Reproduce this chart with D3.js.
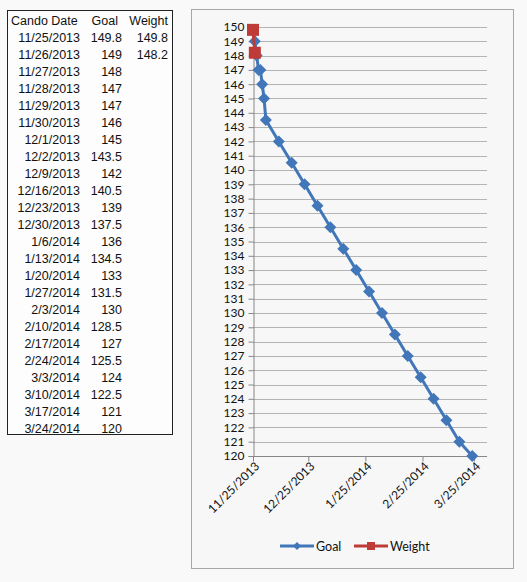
<!DOCTYPE html>
<html><head><meta charset="utf-8">
<script src="https://cdn.jsdelivr.net/npm/d3@7"></script>
<style>
html,body{margin:0;padding:0;background:#f9f9f9;}
svg{display:block;}
</style></head>
<body>
<svg id="c" width="527" height="582"></svg>
<script>
const dates = ["11/25/2013","11/26/2013","11/27/2013","11/28/2013","11/29/2013","11/30/2013","12/1/2013","12/2/2013","12/9/2013","12/16/2013","12/23/2013","12/30/2013","1/6/2014","1/13/2014","1/20/2014","1/27/2014","2/3/2014","2/10/2014","2/17/2014","2/24/2014","3/3/2014","3/10/2014","3/17/2014","3/24/2014"];
const goal = [149.8,149,148,147,147,146,145,143.5,142,140.5,139,137.5,136,134.5,133,131.5,130,128.5,127,125.5,124,122.5,121,120];
const weight = [149.8,148.2,null,null,null,null,null,null,null,null,null,null,null,null,null,null,null,null,null,null,null,null,null,null];
const headers = ["Cando Date","Goal","Weight"];
const xTickLabels = ["11/25/2013","12/25/2013","1/25/2014","2/25/2014","3/25/2014"];
const xDomain = ["11/25/2013","4/1/2014"];
const yDomain = [120,150];
const seriesNames = ["Goal","Weight"];

const parse = d3.timeParse("%m/%d/%Y");
const svg = d3.select("#c");

// ---------- table ----------
const tbl = svg.append("g").attr("font-family","Liberation Sans, Arial, sans-serif").attr("font-size",12.5).attr("fill","#111");
tbl.append("rect").attr("x",7.5).attr("y",10.5).attr("width",165).attr("height",424)
  .attr("fill","#fdfdfd").attr("stroke","#222").attr("stroke-width",1);
const rowY = d3.scaleLinear().domain([0,1]).range([20,37]);
tbl.append("text").attr("x",11).attr("y",rowY(0)+4.5).text(headers[0]);
tbl.append("text").attr("x",118).attr("y",rowY(0)+4.5).attr("text-anchor","end").text(headers[1]);
tbl.append("text").attr("x",168).attr("y",rowY(0)+4.5).attr("text-anchor","end").text(headers[2]);
dates.forEach((d,i)=>{
  const y = rowY(i+1)+4.5;
  tbl.append("text").attr("x",80).attr("y",y).attr("text-anchor","end").text(d);
  tbl.append("text").attr("x",122).attr("y",y).attr("text-anchor","end").text(goal[i]);
  if(weight[i]!=null) tbl.append("text").attr("x",168).attr("y",y).attr("text-anchor","end").text(weight[i]);
});

// ---------- chart ----------
svg.append("rect").attr("x",191.5).attr("y",9.5).attr("width",322).attr("height",559)
  .attr("fill","#f7f7f7").attr("stroke","#a6a6a6").attr("stroke-width",1);

const x = d3.scaleTime().domain(xDomain.map(parse)).range([253,487]);
const y = d3.scaleLinear().domain(yDomain).range([456,27]);
const yTicks = d3.range(yDomain[0], yDomain[1]+1, 1);

const ch = svg.append("g").attr("font-family","Lato, 'Open Sans', sans-serif").attr("font-size",12).attr("fill","#111");

// gridlines
ch.append("g").selectAll("line").data(yTicks).join("line")
  .attr("x1",x.range()[0]).attr("x2",x.range()[1])
  .attr("y1",d=>Math.round(y(d))+0.5).attr("y2",d=>Math.round(y(d))+0.5)
  .attr("stroke","#b4b4b4").attr("stroke-width",1);

// y axis
const yAxis = d3.axisLeft(y).tickValues(yTicks).tickSize(5).tickPadding(4).tickFormat(d3.format("d"));
const gy = ch.append("g").attr("transform",`translate(${x.range()[0]+0.5},0)`).call(yAxis);
gy.selectAll("path,line").attr("stroke","#868686");
gy.selectAll("text").attr("font-family","Lato, 'Open Sans', sans-serif").attr("font-size",12).attr("fill","#111");

// x axis
const xTicks = xTickLabels.map(parse);
const xAxis = d3.axisBottom(x).tickValues(xTicks).tickSize(5).tickFormat(d3.timeFormat("%-m/%-d/%Y"));
const gx = ch.append("g").attr("transform",`translate(0,${Math.round(y(yDomain[0]))+0.5})`).call(xAxis);
gx.selectAll("path,line").attr("stroke","#868686");
gx.select("path").attr("d",`M${x.range()[0]},0H${x.range()[1]}`);
gx.selectAll("text").attr("font-family","Lato, 'Open Sans', sans-serif").attr("font-size",12).attr("fill","#111")
  .attr("text-anchor","end").attr("dy","0.3em")
  .attr("transform","translate(4,8) rotate(-45)").attr("x",0).attr("y",0);

const blue = "#4177b9", red = "#be3b38";
const pts = dates.map((d,i)=>({d:parse(d), g:goal[i], w:weight[i]}));

// goal line
ch.append("path").datum(pts).attr("fill","none").attr("stroke",blue).attr("stroke-width",3).attr("stroke-linejoin","round")
  .attr("d",d3.line().x(p=>x(p.d)).y(p=>y(p.g)));
ch.append("g").selectAll("path").data(pts).join("path")
  .attr("transform",p=>`translate(${x(p.d)},${y(p.g)})`)
  .attr("d","M0,-6L6,0L0,6L-6,0Z").attr("fill",blue);

// weight
const wpts = pts.filter(p=>p.w!=null);
ch.append("path").datum(wpts).attr("fill","none").attr("stroke",red).attr("stroke-width",3)
  .attr("d",d3.line().x(p=>x(p.d)).y(p=>y(p.w)));
ch.append("g").selectAll("rect").data(wpts).join("rect")
  .attr("x",p=>x(p.d)-6).attr("y",p=>y(p.w)-6).attr("width",12).attr("height",12).attr("fill",red);

// legend
const lg = ch.append("g").attr("transform","translate(0,546)");
const legendItems = [{name:seriesNames[0],c:blue,x0:280,shape:"d"},{name:seriesNames[1],c:red,x0:354,shape:"s"}];
legendItems.forEach(it=>{
  lg.append("line").attr("x1",it.x0).attr("x2",it.x0+34).attr("y1",0).attr("y2",0).attr("stroke",it.c).attr("stroke-width",3);
  if(it.shape==="d") lg.append("path").attr("d","M0,-4L4,0L0,4L-4,0Z").attr("transform",`translate(${it.x0+17},0)`).attr("fill",it.c);
  else lg.append("rect").attr("x",it.x0+13).attr("y",-4).attr("width",8).attr("height",8).attr("fill",it.c);
  lg.append("text").attr("x",it.x0+36).attr("y",4.5).text(it.name).attr("font-size",12.5);
});
</script>
</body></html>
